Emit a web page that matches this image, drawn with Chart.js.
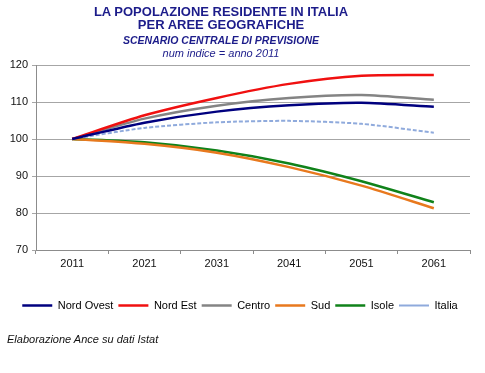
<!DOCTYPE html>
<html>
<head>
<meta charset="utf-8">
<script src="https://cdn.jsdelivr.net/npm/chart.js@4.4.0/dist/chart.umd.min.js"></script>
<style>
  html, body { margin: 0; padding: 0; background: #fff; }
  #wrap { position: relative; width: 485px; height: 373px; overflow: hidden; font-family: "Liberation Sans", Arial, sans-serif; }
  #c { position: absolute; left: 0; top: 0; }
  .t { position: absolute; left: 0; width: 442px; text-align: center; white-space: nowrap; color: #1C1C8A; }
  .t1 { font-weight: bold; font-size: 13px; line-height: 14px; }
  .t3 { font-weight: bold; font-style: italic; font-size: 10.5px; line-height: 12px; }
  .t4 { font-style: italic; font-size: 11px; line-height: 12px; }
  #foot { position: absolute; left: 7px; top: 333px; font-style: italic; font-size: 11px; line-height: 12px; color: #111; white-space: nowrap; }
</style>
</head>
<body>
<div id="wrap">
  <canvas id="c" width="485" height="373"></canvas>
  <div class="t t1" style="top:5px">LA POPOLAZIONE RESIDENTE IN ITALIA</div>
  <div class="t t1" style="top:18px">PER AREE GEOGRAFICHE</div>
  <div class="t t3" style="top:34px">SCENARIO CENTRALE DI PREVISIONE</div>
  <div class="t t4" style="top:47px">num indice = anno 2011</div>
  <div id="foot">Elaborazione Ance su dati Istat</div>
</div>
<script>
const years = ["2011", "2021", "2031", "2041", "2051", "2061"];
const nordOvest = [100, 104.4, 107.4, 109.1, 109.8, 108.7];
const nordEst   = [100, 106.4, 111.1, 114.9, 117.1, 117.3];
const centro    = [100, 105.5, 109.0, 111.1, 111.9, 110.6];
const sud       = [100, 98.7, 96.3, 92.4, 87.4, 81.3];
const isole     = [100, 99.1, 96.9, 93.4, 88.6, 82.9];
const italia    = [100, 103.0, 104.5, 104.9, 104.1, 101.7];
const yTicks    = [70, 80, 90, 100, 110, 120];

function ds(label, data, color, dash) {
  return {
    label: label, data: data, borderColor: color, backgroundColor: color,
    borderWidth: dash ? 2 : 2.5, borderDash: dash || [], pointRadius: 0,
    tension: 0.25, fill: false, pointStyle: 'line'
  };
}

new Chart(document.getElementById('c'), {
  type: 'line',
  data: {
    labels: years,
    datasets: [
      ds('Nord Ovest', nordOvest, '#00007F'),
      ds('Nord Est', nordEst, '#F01010'),
      ds('Centro', centro, '#848484'),
      ds('Sud', sud, '#E8791E'),
      ds('Isole', isole, '#10821A'),
      ds('Italia', italia, '#8FAADC', [4, 2])
    ]
  },
  options: {
    responsive: false,
    animation: false,
    devicePixelRatio: 1,
    layout: { padding: { top: 65, left: 10, right: 15, bottom: 52 } },
    plugins: {
      title: { display: false },
      tooltip: { enabled: false },
      legend: {
        position: 'bottom',
        labels: {
          usePointStyle: true, pointStyleWidth: 30, boxHeight: 11,
          padding: 5, color: '#000',
          font: { family: 'Liberation Sans', size: 11 }
        }
      }
    },
    scales: {
      x: {
        offset: true,
        grid: { offset: true, drawOnChartArea: false, drawTicks: true, tickLength: 4, color: '#8C8C8C' },
        border: { color: '#8C8C8C' },
        ticks: { color: '#111', padding: 3, font: { family: 'Liberation Sans', size: 11 }, maxRotation: 0 },
        afterFit: function (s) { s.height = 45; }
      },
      y: {
        min: 70, max: 120,
        afterBuildTicks: function (s) { s.ticks = yTicks.map(v => ({ value: v })); },
        grid: { color: '#A6A6A6', tickLength: 4 },
        border: { color: '#8C8C8C' },
        ticks: { color: '#111', padding: 4, font: { family: 'Liberation Sans', size: 11 } },
        afterFit: function (s) { s.width = 26; }
      }
    }
  }
});
</script>
</body>
</html>
